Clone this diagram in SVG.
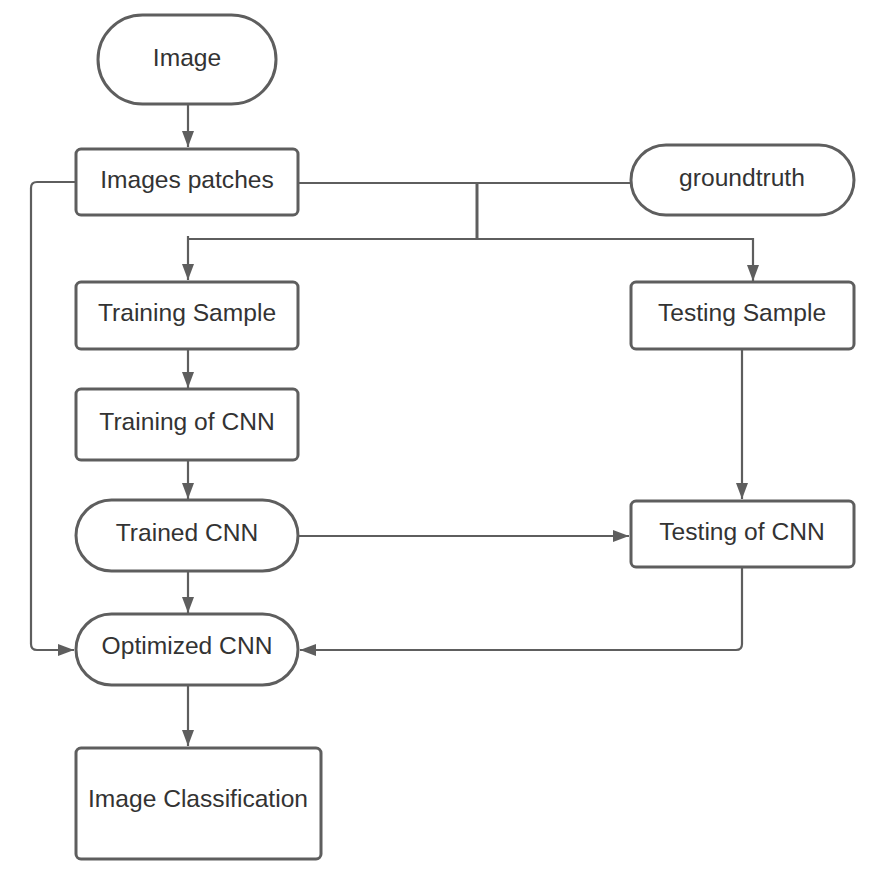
<svg xmlns="http://www.w3.org/2000/svg" width="884" height="885" viewBox="0 0 884 885">
<style>
.n{fill:#fff;stroke:#5e5e5e;stroke-width:3}
.t{font-family:"Liberation Sans",Arial,sans-serif;font-size:24.6px;fill:#333;text-anchor:middle}
.c{fill:none;stroke:#5e5e5e;stroke-width:2.2}
</style>
<defs>
<marker id="ah" viewBox="0 0 16 12" refX="16" refY="6" markerWidth="16" markerHeight="12" markerUnits="userSpaceOnUse" orient="auto">
<path d="M0,0 L16,6 L0,12 Z" fill="#5e5e5e"/>
</marker>
</defs>
<rect width="884" height="885" fill="#fff"/>
<g id="connectors">
<path class="c" d="M188,105 V147" marker-end="url(#ah)"/>
<path class="c" d="M298,183 H631"/>
<path class="c" d="M477,184 V239" style="stroke-width:3"/>
<path class="c" d="M188,239 H753 V281" marker-end="url(#ah)"/>
<path class="c" d="M188,236 V280" marker-end="url(#ah)"/>
<path class="c" d="M188,349 V388" marker-end="url(#ah)"/>
<path class="c" d="M188,460 V499" marker-end="url(#ah)"/>
<path class="c" d="M188,571 V613" marker-end="url(#ah)"/>
<path class="c" d="M188,685 V746" marker-end="url(#ah)"/>
<path class="c" d="M298,536 H629" marker-end="url(#ah)"/>
<path class="c" d="M742,349 V499" marker-end="url(#ah)"/>
<path class="c" d="M742,568 V644 Q742,650 736,650 H300" marker-end="url(#ah)"/>
<path class="c" d="M76,182 H37 Q31,182 31,188 V644 Q31,650 37,650 H74" marker-end="url(#ah)"/>
</g>
<g id="image"><rect class="n" x="98" y="15" width="178" height="89" rx="44.5"/><text class="t" x="187" y="66">Image</text></g>
<g id="patches"><rect class="n" x="76" y="149" width="222" height="66" rx="5"/><text class="t" x="187" y="188">Images patches</text></g>
<g id="groundtruth"><rect class="n" x="631" y="145" width="223" height="70" rx="35"/><text class="t" x="742" y="186">groundtruth</text></g>
<g id="training-sample"><rect class="n" x="76" y="282" width="222" height="67" rx="5"/><text class="t" x="187" y="321">Training Sample</text></g>
<g id="testing-sample"><rect class="n" x="631" y="282" width="223" height="67" rx="5"/><text class="t" x="742" y="321">Testing Sample</text></g>
<g id="training-cnn"><rect class="n" x="76" y="389" width="222" height="71" rx="5"/><text class="t" x="187" y="430">Training of CNN</text></g>
<g id="trained-cnn"><rect class="n" x="76" y="500" width="222" height="71" rx="35.5"/><text class="t" x="187" y="541">Trained CNN</text></g>
<g id="testing-cnn"><rect class="n" x="631" y="501" width="223" height="66" rx="5"/><text class="t" x="742" y="540">Testing of CNN</text></g>
<g id="optimized-cnn"><rect class="n" x="76" y="614" width="222" height="71" rx="35.5"/><text class="t" x="187" y="654">Optimized CNN</text></g>
<g id="classification"><rect class="n" x="76" y="748" width="245" height="111" rx="5"/><text class="t" x="198" y="807">Image Classification</text></g>
</svg>
